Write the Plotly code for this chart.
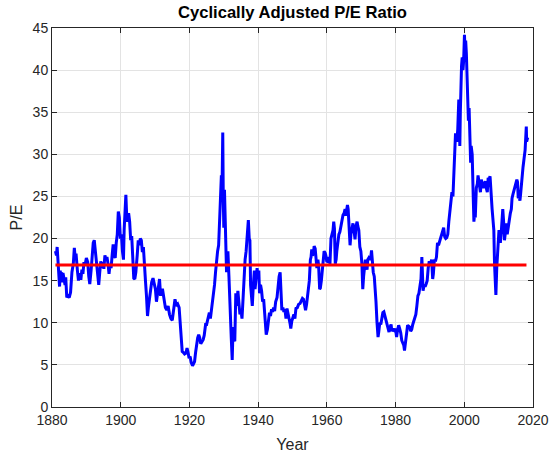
import plotly.graph_objects as go

years = [
    1881.0, 1881.3, 1881.5, 1881.8, 1882.0, 1882.2, 1882.4, 1882.6, 1882.8, 1883.0,
    1883.2, 1883.5, 1883.8, 1884.0, 1884.3, 1884.6, 1885.0, 1885.4, 1885.8, 1886.2,
    1886.5, 1886.8, 1887.0, 1887.4, 1887.7, 1888.0, 1888.4, 1888.7, 1889.0, 1889.3,
    1889.6, 1890.0, 1890.4, 1890.7, 1891.0, 1891.4, 1891.7, 1892.0, 1892.3, 1892.6,
    1893.0, 1893.3, 1893.6, 1893.9, 1894.2, 1894.5, 1894.8, 1895.1, 1895.4, 1895.7,
    1896.0, 1896.3, 1896.6, 1896.9, 1897.2, 1897.5, 1897.8, 1898.1, 1898.4, 1898.7,
    1899.0, 1899.3, 1899.6, 1899.9, 1900.2, 1900.5, 1900.8, 1901.0, 1901.3, 1901.5,
    1901.8, 1902.0, 1902.3, 1902.6, 1902.9, 1903.2, 1903.5, 1903.8, 1904.1, 1904.4,
    1904.8, 1905.1, 1905.4, 1905.7, 1906.0, 1906.3, 1906.6, 1906.9, 1907.2, 1907.5,
    1907.8, 1908.1, 1908.4, 1908.7, 1909.0, 1909.4, 1909.8, 1910.1, 1910.4, 1910.7,
    1911.0, 1911.3, 1911.6, 1911.9, 1912.2, 1912.6, 1913.0, 1913.4, 1913.8, 1914.2,
    1914.6, 1915.0, 1915.4, 1915.8, 1916.2, 1916.6, 1917.0, 1917.3, 1917.6, 1917.9,
    1918.2, 1918.6, 1919.0, 1919.3, 1919.6, 1919.9, 1920.2, 1920.5, 1920.9, 1921.2,
    1921.5, 1921.8, 1922.1, 1922.4, 1922.7, 1923.0, 1923.3, 1923.7, 1924.0, 1924.3,
    1924.7, 1925.0, 1925.4, 1925.8, 1926.1, 1926.4, 1926.7, 1927.0, 1927.3, 1927.6,
    1927.9, 1928.2, 1928.5, 1928.8, 1929.0, 1929.3, 1929.5, 1929.7, 1929.85, 1930.0,
    1930.2, 1930.4, 1930.6, 1930.8, 1931.0, 1931.2, 1931.5, 1931.8, 1932.0, 1932.2,
    1932.45, 1932.7, 1932.9, 1933.2, 1933.5, 1933.8, 1934.1, 1934.4, 1934.7, 1935.0,
    1935.3, 1935.6, 1935.9, 1936.2, 1936.5, 1936.8, 1937.0, 1937.15, 1937.4, 1937.6,
    1937.8, 1938.0, 1938.3, 1938.6, 1938.9, 1939.1, 1939.4, 1939.7, 1939.9, 1940.2,
    1940.4, 1940.7, 1941.0, 1941.3, 1941.6, 1941.9, 1942.1, 1942.35, 1942.7, 1943.0,
    1943.3, 1943.6, 1943.9, 1944.2, 1944.5, 1944.8, 1945.1, 1945.5, 1945.8, 1946.1,
    1946.4, 1946.7, 1946.9, 1947.2, 1947.5, 1947.8, 1948.1, 1948.4, 1948.7, 1949.0,
    1949.3, 1949.5, 1949.8, 1950.1, 1950.4, 1950.7, 1951.0, 1951.4, 1951.8, 1952.2,
    1952.6, 1952.9, 1953.2, 1953.5, 1953.8, 1954.1, 1954.5, 1954.9, 1955.2, 1955.4,
    1955.6, 1955.8, 1956.1, 1956.3, 1956.6, 1956.9, 1957.1, 1957.4, 1957.6, 1957.9,
    1958.1, 1958.4, 1958.7, 1958.9, 1959.2, 1959.5, 1959.7, 1960.0, 1960.3, 1960.6,
    1960.9, 1961.2, 1961.5, 1961.8, 1962.0, 1962.2, 1962.45, 1962.7, 1962.9, 1963.2,
    1963.5, 1963.8, 1964.1, 1964.4, 1964.7, 1965.0, 1965.3, 1965.5, 1965.8, 1966.0,
    1966.2, 1966.5, 1966.75, 1967.0, 1967.3, 1967.6, 1967.9, 1968.2, 1968.5, 1968.8,
    1969.0, 1969.3, 1969.6, 1969.9, 1970.2, 1970.45, 1970.7, 1970.9, 1971.2, 1971.5,
    1971.7, 1971.9, 1972.2, 1972.5, 1972.8, 1973.0, 1973.2, 1973.5, 1973.8, 1974.0,
    1974.3, 1974.6, 1974.9, 1975.1, 1975.4, 1975.7, 1976.0, 1976.3, 1976.6, 1976.9,
    1977.2, 1977.5, 1977.8, 1978.1, 1978.4, 1978.7, 1978.9, 1979.2, 1979.5, 1979.8,
    1980.1, 1980.3, 1980.6, 1980.9, 1981.2, 1981.5, 1981.8, 1982.1, 1982.4, 1982.6,
    1982.9, 1983.2, 1983.5, 1983.8, 1984.1, 1984.4, 1984.7, 1985.0, 1985.3, 1985.6,
    1985.9, 1986.2, 1986.5, 1986.8, 1987.1, 1987.4, 1987.65, 1987.8, 1988.0, 1988.3,
    1988.6, 1988.9, 1989.2, 1989.5, 1989.8, 1990.0, 1990.3, 1990.5, 1990.8, 1991.0,
    1991.3, 1991.6, 1991.9, 1992.2, 1992.5, 1992.8, 1993.1, 1993.4, 1993.7, 1994.0,
    1994.3, 1994.6, 1994.9, 1995.2, 1995.5, 1995.8, 1996.1, 1996.4, 1996.7, 1996.95,
    1997.2, 1997.45, 1997.7, 1997.85, 1998.1, 1998.4, 1998.6, 1998.7, 1998.85, 1999.0,
    1999.2, 1999.4, 1999.6, 1999.8, 1999.95, 2000.05, 2000.25, 2000.4, 2000.6, 2000.8,
    2000.95, 2001.2, 2001.4, 2001.7, 2001.85, 2002.0, 2002.3, 2002.6, 2002.8, 2003.0,
    2003.2, 2003.5, 2003.8, 2004.0, 2004.3, 2004.5, 2004.7, 2004.95, 2005.2, 2005.5,
    2005.8, 2006.1, 2006.4, 2006.7, 2006.95, 2007.2, 2007.5, 2007.7, 2007.9, 2008.1,
    2008.3, 2008.6, 2008.8, 2009.0, 2009.2, 2009.45, 2009.7, 2009.9, 2010.1, 2010.3,
    2010.5, 2010.8, 2011.0, 2011.2, 2011.45, 2011.7, 2011.9, 2012.1, 2012.3, 2012.5,
    2012.8, 2013.1, 2013.4, 2013.7, 2013.9, 2014.2, 2014.5, 2014.8, 2015.0, 2015.3,
    2015.5, 2015.7, 2016.0, 2016.2, 2016.4, 2016.6, 2016.9, 2017.1, 2017.4, 2017.7,
    2017.95, 2018.05, 2018.15, 2018.3, 2018.45,
]

pe = [
    18.5, 18.0, 19.0, 17.0, 15.9, 14.3, 16.2, 15.0, 16.0, 14.8,
    15.9, 15.2, 14.5, 15.4, 13.0, 13.2, 13.0, 13.6, 16.0, 17.0,
    18.9, 17.5, 18.2, 16.2, 15.0, 15.9, 15.1, 16.3, 15.8, 17.2,
    16.8, 17.7, 17.2, 15.5, 14.6, 16.3, 17.5, 19.5, 19.8, 18.5,
    17.0, 15.5, 14.5, 16.0, 17.3, 16.5, 17.2, 16.4, 18.0, 17.5,
    17.8, 17.0, 15.8, 17.0, 16.5, 18.0, 19.3, 18.0, 17.7, 19.5,
    20.5, 23.2, 22.5, 20.0, 20.5, 18.5, 17.5, 21.0, 24.5, 25.2,
    22.0, 22.5, 23.0, 22.0, 19.8, 20.3, 17.0, 15.3, 15.2, 16.0,
    18.0, 19.8, 19.2, 20.0, 19.8, 18.4, 19.0, 17.5, 15.0, 13.2,
    10.8, 12.0, 13.2, 14.0, 14.8, 15.3, 14.5, 14.0, 12.5, 13.5,
    14.0, 15.2, 13.2, 13.9, 13.9, 13.0, 11.8, 11.5, 12.0, 11.0,
    10.5, 10.3, 11.5, 12.8, 12.0, 12.2, 11.8, 10.0, 8.5, 6.6,
    6.5, 6.3, 6.4, 7.0, 6.5, 5.8, 6.0, 5.3, 4.9, 5.2,
    5.4, 6.5, 7.5, 8.2, 8.6, 8.2, 7.5, 7.8, 8.0, 8.5,
    9.8, 9.8, 10.5, 11.2, 10.5, 11.5, 12.5, 13.0, 14.5, 16.0,
    17.8, 18.5, 19.2, 21.8, 25.0, 27.5, 26.0, 32.6, 25.0, 21.3,
    25.8, 22.0, 18.5, 16.0, 17.0, 18.5, 15.5, 11.3, 9.5, 8.0,
    5.6, 9.5, 8.0, 7.8, 13.5, 12.0, 13.8, 12.0, 11.0, 11.5,
    10.5, 12.8, 15.5, 17.5, 18.5, 19.8, 21.5, 22.2, 20.0, 19.8,
    14.5, 13.2, 12.0, 14.5, 16.2, 14.0, 15.0, 16.5, 15.5, 16.2,
    13.5, 14.5, 13.8, 12.5, 12.8, 11.5, 10.0, 8.6, 9.2, 10.0,
    11.2, 10.8, 11.6, 11.3, 11.8, 11.4, 12.5, 13.0, 14.5, 15.5,
    16.0, 13.0, 11.5, 11.8, 11.3, 11.6, 10.5, 11.7, 10.8, 10.5,
    9.9, 9.3, 10.2, 10.8, 11.0, 10.5, 11.7, 11.8, 12.2, 12.3,
    12.6, 12.9, 12.8, 11.8, 11.5, 12.2, 13.5, 15.0, 17.5, 17.8,
    18.7, 18.0, 18.2, 19.1, 18.8, 17.8, 16.5, 17.5, 16.8, 14.0,
    14.1, 15.0, 16.5, 17.5, 18.5, 18.3, 18.0, 17.2, 17.3, 17.8,
    17.0, 20.0, 20.5, 21.0, 22.0, 21.2, 17.0, 17.5, 18.5, 20.0,
    20.5, 20.8, 21.5, 22.5, 22.8, 23.0, 23.5, 22.7, 23.6, 24.0,
    23.5, 21.0, 19.2, 20.5, 21.2, 21.8, 21.0, 19.9, 21.5, 22.0,
    21.5, 21.0, 19.0, 18.5, 17.0, 14.0, 15.5, 16.3, 17.5, 17.0,
    16.3, 17.5, 17.7, 17.5, 17.8, 18.6, 17.5, 16.0, 15.5, 13.5,
    12.5, 10.0, 8.3, 8.9, 10.0, 9.8, 10.7, 11.2, 11.3, 10.8,
    10.2, 9.9, 9.3, 8.9, 9.5, 9.8, 9.0, 9.2, 9.1, 9.3,
    8.9, 8.3, 9.2, 9.7, 9.3, 8.8, 7.9, 7.6, 7.3, 6.7,
    8.0, 8.8, 9.7, 9.6, 9.5, 9.0, 9.2, 9.8, 10.2, 10.5,
    11.0, 12.0, 13.2, 13.5, 14.8, 15.2, 17.8, 14.5, 13.8, 14.5,
    14.3, 14.6, 15.0, 16.5, 17.3, 16.8, 17.2, 17.5, 15.2, 15.8,
    17.5, 17.3, 17.8, 19.5, 19.2, 19.6, 20.0, 20.3, 20.8, 21.3,
    20.2, 20.0, 20.1, 20.5, 22.0, 23.5, 24.5, 25.5, 25.0, 28.0,
    29.0, 32.5, 32.0, 31.5, 33.0, 36.5, 36.0, 31.0, 35.0, 39.5,
    40.5, 41.5, 40.0, 41.0, 44.0, 44.2, 42.0, 43.5, 42.0, 40.0,
    37.0, 34.0, 35.5, 30.0, 29.0, 31.0, 30.0, 25.0, 22.0, 23.0,
    22.5, 26.0, 26.5, 27.5, 26.5, 26.0, 25.5, 27.0, 26.5, 26.0,
    26.4, 26.8, 26.0, 25.5, 27.2, 27.0, 27.4, 25.5, 25.0, 23.5,
    22.5, 21.0, 17.0, 15.5, 13.3, 16.5, 19.0, 20.0, 21.0, 20.0,
    19.5, 21.0, 22.5, 23.5, 22.0, 19.8, 20.5, 21.5, 21.8, 20.5,
    21.5, 22.0, 23.0, 23.5, 24.8, 25.3, 25.8, 26.0, 26.5, 27.0,
    26.7, 24.8, 25.0, 24.5, 25.3, 26.5, 27.3, 28.5, 29.5, 30.5,
    32.5, 33.3, 31.5, 31.7, 32.0,
]

mean_pe = 16.85
mean_span = [1881.0, 2018.1]

x_ticks = [1880, 1900, 1920, 1940, 1960, 1980, 2000, 2020]
y_ticks = [0, 5, 10, 15, 20, 25, 30, 35, 40, 45]

FONT = "Liberation Sans, Arial, sans-serif"

W, H = 551, 453

fig = go.Figure()
fig.add_trace(go.Scatter(
    x=years, y=pe, mode="lines",
    line=dict(color="rgb(0,0,255)", width=3),
    showlegend=False, hoverinfo="skip",
))
fig.add_trace(go.Scatter(
    x=mean_span, y=[mean_pe, mean_pe], mode="lines",
    line=dict(color="rgb(255,0,0)", width=3),
    showlegend=False, hoverinfo="skip",
))

axis_common = dict(
    showline=True, linecolor="#262626", linewidth=1, mirror="ticks",
    ticks="inside", ticklen=5, tickcolor="#262626",
    showgrid=True, gridcolor="#e3e3e3", gridwidth=1,
    zeroline=False, automargin=False,
    tickfont=dict(family=FONT, size=14, color="#262626"),
)

fig.update_layout(
    width=W, height=H,
    margin=dict(l=52, r=18, t=28, b=46, autoexpand=False),
    paper_bgcolor="white", plot_bgcolor="white",
    hovermode=False,
    title=dict(
        text="<b>Cyclically Adjusted P/E Ratio</b>",
        x=292.5 / W, xanchor="center", y=1 - 12.5 / H, yanchor="middle",
        font=dict(family=FONT, size=16.6, color="black"),
    ),
    xaxis=dict(
        range=[1880, 2020], tickvals=x_ticks,
        title=dict(text="Year", standoff=18,
                   font=dict(family=FONT, size=16, color="#262626")),
        **axis_common,
    ),
    yaxis=dict(
        range=[0, 45], tickvals=y_ticks,
        title=dict(text="P/E", standoff=6,
                   font=dict(family=FONT, size=16, color="#262626")),
        **axis_common,
    ),
)

# Remove the default 8px page margin so the 551x453 figure fills the window.
fig.write_html(
    "out.html",
    config={"displayModeBar": False, "staticPlot": True},
    post_script="document.body.style.margin='0px';document.body.style.overflow='hidden';",
)
